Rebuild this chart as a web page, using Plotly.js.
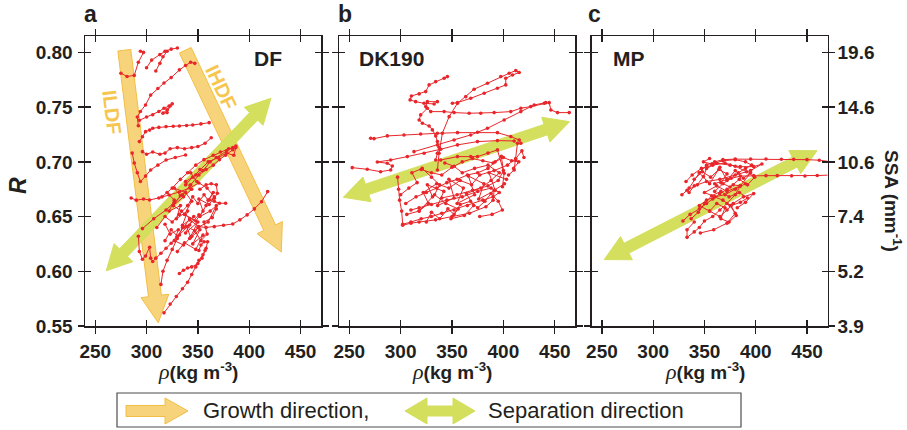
<!DOCTYPE html>
<html><head><meta charset="utf-8">
<script src="https://cdn.plot.ly/plotly-3.0.1.min.js"></script>
<style>html,body{margin:0;padding:0;background:#fff}#chart{width:907px;height:430px}</style>
</head><body><div id="chart"></div>
<script>
// ---------------- data ----------------
const rhoTicks = [250, 300, 350, 400, 450];
const rhoTickLabels = ['250', '300', '350', '400', '450'];
const rTicks = [0.55, 0.60, 0.65, 0.70, 0.75, 0.80];
const rTickLabels = ['0.55', '0.60', '0.65', '0.70', '0.75', '0.80'];
const ssaTickLabels = ['3.9', '5.2', '7.4', '10.6', '14.6', '19.6'];
const panelNames = ['DF', 'DK190', 'MP'];
const panelLetters = ['a', 'b', 'c'];

// DF trajectories (rho kg m-3, R)
const dfRho = [
  [294, 297, 292, 288, 281, 275],
  [300, 305, 313, 318, 324, 330],
  [309, 313, 316, 320],
  [292, 291, 294, 299, 304, 311, 317, 324, 332, 338, 343, 347],
  [293, 300, 306, 312, 317, 322, 325, 320, 316, 320, 323],
  [293, 296, 299, 303, 306, 312, 319, 326, 332, 339, 345, 353, 361],
  [296, 300, 306, 313, 318, 323, 330, 337, 344, 350, 357, 363],
  [286, 288, 291, 294, 299, 304, 311, 319, 328, 338],
  [296, 307, 319, 327, 335, 343, 351, 358, 365, 371, 377, 384, 387],
  [285, 290, 297, 303, 312, 322, 332, 342, 351],
  [292, 293, 296, 299, 303, 304, 306, 309, 314, 319, 324, 332, 342, 351],
  [317, 323, 329, 335, 340, 344, 348, 351, 355, 358, 359.5, 356, 353, 351],
  [332, 336, 340, 344, 350, 354, 357],
  [342, 351, 358, 366, 375, 384, 391, 398, 405, 412, 418],
  [352, 358, 363, 368, 369, 366, 361, 366, 371, 377],
  [314, 316, 320, 325, 330, 335],
  [320, 327, 322, 333, 329, 340, 335, 346, 338, 350, 342, 352, 345, 355, 348, 337, 330],
  [310, 318, 325, 332, 340, 345, 350, 356, 360, 365, 358, 352, 362, 368, 360, 350, 344],
  [318, 324, 330, 336, 342, 334, 326, 336, 344, 338, 348, 355, 362, 368, 378, 384],
  [315, 325, 333, 340, 348, 356, 365, 372, 380, 387, 385, 378, 370, 360, 352, 345, 338],
  [326, 333, 327, 338, 344, 337, 348, 355, 351, 361, 366, 359, 349, 343],
  [318, 323, 331, 327, 336, 343, 339, 347, 353, 359, 356, 364, 368]
];
const dfR = [
  [0.801, 0.800, 0.791, 0.779, 0.778, 0.781],
  [0.786, 0.793, 0.798, 0.801, 0.803, 0.804],
  [0.783, 0.790, 0.796, 0.801],
  [0.733, 0.741, 0.746, 0.752, 0.761, 0.767, 0.772, 0.777, 0.784, 0.788, 0.791, 0.790],
  [0.738, 0.741, 0.743, 0.746, 0.749, 0.751, 0.753, 0.7475, 0.7445, 0.745, 0.751],
  [0.7185, 0.723, 0.7276, 0.729, 0.7307, 0.7315, 0.7322, 0.7325, 0.7328, 0.7332, 0.7337, 0.7347, 0.7358],
  [0.7093, 0.707, 0.709, 0.707, 0.708, 0.712, 0.713, 0.712, 0.713, 0.714, 0.717, 0.722],
  [0.708, 0.699, 0.690, 0.682, 0.687, 0.6926, 0.697, 0.7017, 0.704, 0.7063],
  [0.639, 0.648, 0.656, 0.663, 0.670, 0.679, 0.688, 0.693, 0.697, 0.702, 0.706, 0.711, 0.7145],
  [0.667, 0.665, 0.666, 0.6652, 0.667, 0.6697, 0.6725, 0.6761, 0.6807],
  [0.632, 0.618, 0.611, 0.614, 0.622, 0.612, 0.609, 0.612, 0.6165, 0.621, 0.6256, 0.6332, 0.6423, 0.6515],
  [0.562, 0.570, 0.577, 0.584, 0.590, 0.597, 0.604, 0.610, 0.615, 0.621, 0.627, 0.627, 0.624, 0.619],
  [0.598, 0.601, 0.603, 0.604, 0.607, 0.612, 0.619],
  [0.6469, 0.6408, 0.640, 0.6408, 0.642, 0.6432, 0.647, 0.6515, 0.657, 0.6636, 0.6728],
  [0.675, 0.679, 0.680, 0.679, 0.6713, 0.6667, 0.6652, 0.664, 0.6622, 0.6622],
  [0.588, 0.600, 0.610, 0.620, 0.630, 0.640],
  [0.672, 0.665, 0.655, 0.660, 0.648, 0.655, 0.642, 0.650, 0.635, 0.645, 0.630, 0.638, 0.625, 0.633, 0.620, 0.626, 0.618],
  [0.640, 0.650, 0.645, 0.652, 0.660, 0.668, 0.662, 0.670, 0.665, 0.672, 0.660, 0.650, 0.655, 0.660, 0.645, 0.640, 0.632],
  [0.628, 0.638, 0.632, 0.640, 0.648, 0.655, 0.660, 0.668, 0.675, 0.682, 0.688, 0.692, 0.700, 0.704, 0.710, 0.713],
  [0.668, 0.676, 0.684, 0.690, 0.697, 0.702, 0.706, 0.709, 0.712, 0.713, 0.706, 0.708, 0.704, 0.700, 0.693, 0.686, 0.679],
  [0.660, 0.669, 0.676, 0.672, 0.664, 0.652, 0.646, 0.655, 0.666, 0.661, 0.668, 0.676, 0.682, 0.690],
  [0.643, 0.634, 0.638, 0.628, 0.624, 0.631, 0.641, 0.637, 0.628, 0.634, 0.645, 0.649, 0.657]
];

// DK190 trajectories
const dkRho = [
  [345.5, 342.3, 334.1, 327.7, 324.4, 318.0, 310.5, 309.2, 314.6, 322.8, 332.6, 335.8, 326.0, 324.4, 329.3, 342.3, 352.0, 366.7, 378.0, 391.0, 407.2, 417.0, 426.7, 439.8, 444.6, 446.2, 452.7, 464.1],
  [335.8, 337.4, 340.6, 347.2, 355.3, 363.4, 371.5, 384.5, 397.5, 405.6, 412.1, 415.4, 408.9, 402.3, 402.3, 394.2, 381.3, 368.2, 355.3, 350.4],
  [270.8, 274.1, 287.0, 303.3, 319.5, 335.8, 355.3, 374.8, 394.2, 407.2, 415.4, 417.0],
  [252.9, 267.5, 280.5, 290.3, 291.9, 287.0, 277.3, 290.3, 306.5, 322.8, 339.0, 355.3, 374.8, 394.2, 410.5],
  [313.0, 335.8, 352.0, 368.2, 384.5, 400.8, 417.0, 430.0, 441.3],
  [326.0, 319.5, 318.0, 321.2, 327.7, 330.9, 334.1, 335.8, 337.4, 335.8, 334.1],
  [297, 298, 299, 301, 302, 310, 320, 330, 340, 352, 365, 380, 390, 396, 388, 375, 360, 345, 330, 318, 310],
  [305, 315, 325, 335, 345, 355, 365, 375, 385, 392, 398, 400, 395, 385, 370, 355, 340],
  [318, 331, 326, 342, 336, 352, 347, 361, 355, 372, 366, 381, 376, 392, 386, 403],
  [320, 330, 340, 350, 360, 370, 380, 390, 400, 408, 415, 410],
  [339, 355.3, 368.2, 374.8, 385, 394.2, 400.8, 399.1],
  [413.7, 412.1, 410.5, 405],
  [302, 310, 318, 334, 350, 367, 383, 390, 391, 401],
  [300, 308, 316, 311, 321, 330, 338, 333, 344, 356, 349, 362, 371, 364, 378, 388, 396, 385, 372, 360, 352, 343],
  [306, 318, 327, 322, 335, 347, 358, 369, 377, 391, 404, 412, 418, 420],
  [325, 330, 338, 346, 352, 358, 368, 375, 382, 388, 395, 399, 389, 377]
];
const dkR = [
  [0.7779, 0.7764, 0.7733, 0.7703, 0.7642, 0.7621, 0.7602, 0.7566, 0.755, 0.7535, 0.7529, 0.755, 0.755, 0.7505, 0.7459, 0.7459, 0.745, 0.7444, 0.7444, 0.745, 0.7459, 0.749, 0.7505, 0.7535, 0.7541, 0.7474, 0.745, 0.745],
  [0.6926, 0.7079, 0.7261, 0.7413, 0.7535, 0.7596, 0.7664, 0.7718, 0.7779, 0.781, 0.7834, 0.7816, 0.7794, 0.7764, 0.7703, 0.7673, 0.7627, 0.7581, 0.7541, 0.7535],
  [0.7216, 0.7212, 0.7237, 0.7246, 0.7255, 0.7261, 0.7267, 0.727, 0.7267, 0.7231, 0.72, 0.717],
  [0.6947, 0.6932, 0.691, 0.6926, 0.6962, 0.6987, 0.6999, 0.7017, 0.7048, 0.7079, 0.7115, 0.7155, 0.7185, 0.7194, 0.7191],
  [0.7093, 0.7155, 0.72, 0.7246, 0.7307, 0.7383, 0.7459, 0.752, 0.7541],
  [0.749, 0.7429, 0.7383, 0.7353, 0.7328, 0.7292, 0.7237, 0.7185, 0.7133, 0.7079, 0.7017],
  [0.686, 0.675, 0.665, 0.655, 0.643, 0.645, 0.648, 0.650, 0.653, 0.656, 0.660, 0.665, 0.668, 0.672, 0.676, 0.673, 0.668, 0.665, 0.661, 0.658, 0.656],
  [0.662, 0.668, 0.672, 0.676, 0.681, 0.684, 0.688, 0.690, 0.694, 0.700, 0.705, 0.692, 0.683, 0.678, 0.674, 0.670, 0.667],
  [0.655, 0.668, 0.679, 0.673, 0.660, 0.667, 0.684, 0.676, 0.662, 0.670, 0.687, 0.680, 0.666, 0.674, 0.690, 0.684],
  [0.693, 0.690, 0.688, 0.695, 0.700, 0.703, 0.701, 0.699, 0.704, 0.701, 0.700, 0.694],
  [0.7017, 0.7048, 0.7048, 0.7048, 0.708, 0.7109, 0.6896, 0.6773],
  [0.717, 0.7017, 0.6926, 0.688],
  [0.642, 0.644, 0.645, 0.647, 0.650, 0.653, 0.659, 0.665, 0.674, 0.680],
  [0.670, 0.676, 0.681, 0.690, 0.694, 0.686, 0.679, 0.670, 0.662, 0.657, 0.648, 0.651, 0.660, 0.671, 0.676, 0.683, 0.690, 0.697, 0.694, 0.690, 0.696, 0.699],
  [0.652, 0.655, 0.662, 0.672, 0.680, 0.676, 0.683, 0.679, 0.688, 0.692, 0.697, 0.703, 0.710, 0.704],
  [0.645, 0.654, 0.648, 0.657, 0.652, 0.661, 0.664, 0.658, 0.664, 0.671, 0.664, 0.656, 0.652, 0.650]
];

// MP trajectories
const mpRho = [
  [345, 352, 360, 368, 380, 395, 410, 425, 437, 450, 462, 475],
  [360, 372, 385, 398, 410, 421, 435, 448, 460, 475],
  [328, 333, 343, 349, 352, 362, 375, 385, 398, 406, 395, 380, 365, 352, 340, 335],
  [335, 345, 355, 365, 372, 380, 388, 395, 385, 372, 362, 350, 360, 370, 380, 390],
  [329, 336, 345, 352, 358, 365, 372, 378, 385, 380, 372, 365, 358, 350, 345, 340, 333, 333, 340],
  [346, 359, 372, 380, 375, 368, 360, 352, 345, 355, 365, 372, 378, 388, 398, 390, 382],
  [340, 348, 356, 364, 372, 366, 375, 384, 392, 399, 391, 380, 370, 358, 347, 338, 332],
  [355, 362, 370, 366, 374, 381, 376, 385, 392, 384, 374, 366, 357, 350, 344, 337],
  [360, 368, 376, 383, 390, 396, 390, 380, 368, 357, 349, 355]
];
const mpR = [
  [0.690, 0.697, 0.700, 0.702, 0.7025, 0.7025, 0.7026, 0.7024, 0.7023, 0.702, 0.7015, 0.700],
  [0.680, 0.684, 0.687, 0.6874, 0.6874, 0.6874, 0.6872, 0.6871, 0.6875, 0.688],
  [0.670, 0.674, 0.679, 0.6865, 0.694, 0.6987, 0.697, 0.6956, 0.6956, 0.698, 0.692, 0.688, 0.684, 0.682, 0.678, 0.672],
  [0.676, 0.690, 0.680, 0.695, 0.683, 0.692, 0.685, 0.690, 0.678, 0.673, 0.678, 0.672, 0.668, 0.670, 0.675, 0.680],
  [0.646, 0.652, 0.657, 0.662, 0.666, 0.671, 0.675, 0.679, 0.678, 0.670, 0.662, 0.656, 0.650, 0.646, 0.640, 0.636, 0.631, 0.638, 0.645],
  [0.635, 0.638, 0.644, 0.653, 0.660, 0.665, 0.668, 0.665, 0.660, 0.655, 0.650, 0.656, 0.662, 0.668, 0.671, 0.663, 0.658],
  [0.684, 0.691, 0.686, 0.693, 0.689, 0.681, 0.677, 0.684, 0.679, 0.686, 0.691, 0.696, 0.699, 0.697, 0.694, 0.688, 0.682],
  [0.655, 0.662, 0.658, 0.648, 0.645, 0.651, 0.660, 0.663, 0.667, 0.672, 0.668, 0.673, 0.669, 0.662, 0.654, 0.648],
  [0.673, 0.680, 0.685, 0.690, 0.694, 0.697, 0.700, 0.702, 0.701, 0.698, 0.700, 0.703]
];

// direction arrows, in each panel's data units: [rho start, R start] -> [rho end, R end]
const growthArrows = [
  {panel: 0, from: [278.3, 0.802], to: [311.4, 0.553], label: 'ILDF'},
  {panel: 0, from: [337.7, 0.802], to: [431.3, 0.6176], label: 'IHDF'}
];
const separationArrows = [
  {panel: 0, from: [260.7, 0.6005], to: [421.2, 0.7581]},
  {panel: 1, from: [244.2, 0.6676], to: [464.4, 0.7367]},
  {panel: 2, from: [252.2, 0.6107], to: [459.8, 0.7102]}
];

// ---------------- geometry / style ----------------
const W = 907, H = 430, TOP = 36, BOT = 326;
const PX = [[85, 321], [339, 575.3], [591.7, 827.5]];
const XR = [240, 470], YR = [0.55, 0.815];
const INK = '#231f20', RED = '#e8262b', ORANGE = '#f7d47b', ORANGE_EDGE = '#f3be45', GREEN = '#d3df5d';
const FONT = 'Liberation Sans, Arial, sans-serif';

function dataToPx(k, x, y) { const [l, r] = PX[k]; return [l + (x - XR[0]) / (XR[1] - XR[0]) * (r - l), TOP + (YR[1] - y) / (YR[1] - YR[0]) * (BOT - TOP)]; }
function pxToData(k, px, py) { const [l, r] = PX[k]; return [XR[0] + (px - l) / (r - l) * (XR[1] - XR[0]), YR[1] - (py - TOP) / (BOT - TOP) * (YR[1] - YR[0])]; }
function arrowPoly(p0, p1, bw, hw, hl, dbl) {
  const dx = p1[0] - p0[0], dy = p1[1] - p0[1], L = Math.hypot(dx, dy);
  const d = [dx / L, dy / L], n = [-d[1], d[0]];
  const at = (p, s, t) => [p[0] + d[0] * s + n[0] * t, p[1] + d[1] * s + n[1] * t];
  const pts = [];
  if (dbl) pts.push(p0, at(p0, hl, hw), at(p0, hl, bw)); else pts.push(at(p0, 0, bw));
  pts.push(at(p1, -hl, bw), at(p1, -hl, hw), p1, at(p1, -hl, -hw), at(p1, -hl, -bw));
  if (dbl) pts.push(at(p0, hl, -bw), at(p0, hl, -hw)); else pts.push(at(p0, 0, -bw));
  return pts;
}
const toPath = pts => 'M' + pts.map(p => p[0].toFixed(3) + ',' + p[1].toFixed(5)).join('L') + 'Z';
const axSuffix = k => (k === 0 ? '' : String(k + 1));

const shapes = [];
function dataArrow(a, bw, hw, hl, dbl, fill, edge) {
  const p0 = dataToPx(a.panel, a.from[0], a.from[1]);
  const p1 = dataToPx(a.panel, a.to[0], a.to[1]);
  const pts = arrowPoly(p0, p1, bw, hw, hl, dbl).map(p => pxToData(a.panel, p[0], p[1]));
  shapes.push({type: 'path', xref: 'x' + axSuffix(a.panel), yref: 'y' + axSuffix(a.panel), path: toPath(pts),
    fillcolor: fill, line: {color: edge, width: 1}, layer: 'below'});
}
growthArrows.forEach(a => dataArrow(a, 6.5, 14, 27, false, ORANGE, ORANGE_EDGE));
separationArrows.forEach(a => dataArrow(a, 5.5, 13, 25, true, GREEN, GREEN));

// legend box (paper)
const pp = p => [p[0] / W, 1 - p[1] / H];
shapes.push({type: 'rect', xref: 'paper', yref: 'paper', x0: 117 / W, x1: 741 / W, y0: 1 - 427 / H, y1: 1 - 393 / H,
  line: {color: '#4d4d4d', width: 1.2}, fillcolor: 'rgba(0,0,0,0)'});
shapes.push({type: 'path', xref: 'paper', yref: 'paper', path: 'M' + arrowPoly([126, 411], [188, 411], 5.5, 13, 23, false).map(pp).map(p => p[0].toFixed(5) + ',' + p[1].toFixed(5)).join('L') + 'Z',
  fillcolor: ORANGE, line: {color: ORANGE_EDGE, width: 1}});
shapes.push({type: 'path', xref: 'paper', yref: 'paper', path: 'M' + arrowPoly([405, 411], [475, 411], 5, 13, 22, true).map(pp).map(p => p[0].toFixed(5) + ',' + p[1].toFixed(5)).join('L') + 'Z',
  fillcolor: GREEN, line: {color: GREEN, width: 1}});

// ---------------- traces ----------------
const traces = [];
[[dfRho, dfR], [dkRho, dkR], [mpRho, mpR]].forEach(([xs, ys], k) => {
  xs.forEach((x, i) => traces.push({
    type: 'scatter', mode: 'lines+markers', x: x, y: ys[i],
    xaxis: 'x' + axSuffix(k), yaxis: 'y' + axSuffix(k),
    line: {color: RED, width: 1}, marker: {color: RED, size: 3.6},
    showlegend: false, hoverinfo: 'x+y'
  }));
});

// ---------------- axes ----------------
const layout = {
  width: W, height: H, margin: {l: 0, r: 0, t: 0, b: 0},
  paper_bgcolor: '#fff', plot_bgcolor: '#fff', showlegend: false,
  font: {family: FONT, color: INK},
  shapes: shapes, annotations: []
};
const tickFont = {family: FONT, size: 19, color: INK, weight: 'bold'};
const yDom = [1 - BOT / H, 1 - TOP / H];
for (let k = 0; k < 3; k++) {
  const s = axSuffix(k), xDom = [PX[k][0] / W, PX[k][1] / W];
  layout['xaxis' + s] = {domain: xDom, range: XR, anchor: 'y' + s, tickmode: 'array', tickvals: rhoTicks, ticktext: rhoTickLabels,
    ticks: 'outside', ticklen: 6, tickwidth: 1.3, tickcolor: INK, showline: true, linecolor: INK, linewidth: 1.5,
    mirror: 'ticks', showgrid: false, zeroline: false, tickfont: tickFont, ticklabelstandoff: 2, fixedrange: true};
  layout['yaxis' + s] = {domain: yDom, range: YR, anchor: 'x' + s, tickmode: 'array', tickvals: rTicks, ticktext: rTickLabels,
    showticklabels: k === 0, ticks: 'outside', ticklen: 6, tickwidth: 1.3, tickcolor: INK, showline: true, linecolor: INK,
    linewidth: 1.5, mirror: 'ticks', showgrid: false, zeroline: false, tickfont: tickFont, ticklabelstandoff: 1, fixedrange: true};
  // inner halves of the crossing ticks
  const xi = String(k + 4), yi = String(k + 4);
  layout['xaxis' + xi] = {overlaying: 'x' + s, anchor: 'y' + s, range: XR, tickmode: 'array', tickvals: rhoTicks,
    ticks: 'inside', ticklen: 6, tickwidth: 1.3, tickcolor: INK, mirror: 'ticks', showticklabels: false, showline: false,
    showgrid: false, zeroline: false, fixedrange: true};
  layout['yaxis' + yi] = {overlaying: 'y' + s, anchor: 'x' + s, range: YR, tickmode: 'array', tickvals: rTicks,
    ticks: 'inside', ticklen: 6, tickwidth: 1.3, tickcolor: INK, mirror: 'ticks', showticklabels: false, showline: false,
    showgrid: false, zeroline: false, fixedrange: true};
  traces.push({type: 'scatter', x: [], y: [], xaxis: 'x' + xi, yaxis: 'y' + s, showlegend: false, hoverinfo: 'skip'});
  traces.push({type: 'scatter', x: [], y: [], xaxis: 'x' + s, yaxis: 'y' + yi, showlegend: false, hoverinfo: 'skip'});

  // x-axis title
  layout.annotations.push({xref: 'paper', yref: 'paper', x: (PX[k][0] + PX[k][1]) / 2 / W - 5 / W, y: 1 - 371 / H,
    xanchor: 'center', yanchor: 'middle', showarrow: false,
    text: '<span style="font-family:Liberation Serif;font-style:italic;font-weight:normal;font-size:22px">ρ</span>(kg m<sup>-3</sup>)',
    font: {family: FONT, size: 19, color: INK, weight: 'bold'}});
  // panel letter
  layout.annotations.push({xref: 'paper', yref: 'paper', x: [82, 335.5, 585.5][k] / W, y: 1 - 14 / H, xanchor: 'left', yanchor: 'middle',
    showarrow: false, text: panelLetters[k], font: {family: FONT, size: 23, color: INK, weight: 'bold'}});
  // panel name
  layout.annotations.push({xref: 'paper', yref: 'paper', x: [252, 357, 610.5][k] / W, y: 1 - 59 / H, xanchor: 'left', yanchor: 'middle',
    showarrow: false, text: panelNames[k], font: {family: FONT, size: 21, color: INK, weight: 'bold'}});
}
layout.yaxis7 = {overlaying: 'y3', side: 'right', anchor: 'x3', range: YR, tickmode: 'array', tickvals: rTicks, ticktext: ssaTickLabels,
  ticks: '', showline: false, showgrid: false, zeroline: false, tickfont: tickFont, ticklabelstandoff: 9, fixedrange: true};
traces.push({type: 'scatter', x: [], y: [], xaxis: 'x3', yaxis: 'y7', showlegend: false, hoverinfo: 'skip'});

// y titles
layout.annotations.push({xref: 'paper', yref: 'paper', x: 18 / W, y: 1 - 186 / H, xanchor: 'center', yanchor: 'middle', showarrow: false,
  textangle: -90, text: '<i>R</i>', font: {family: FONT, size: 23, color: INK, weight: 'bold'}});
layout.annotations.push({xref: 'paper', yref: 'paper', x: 893 / W, y: 1 - 201 / H, xanchor: 'center', yanchor: 'middle', showarrow: false,
  textangle: 90, text: 'SSA (mm<sup>-1</sup>)', font: {family: FONT, size: 19, color: INK, weight: 'bold'}});

// growth-arrow labels
layout.annotations.push({xref: 'paper', yref: 'paper', x: 112 / W, y: 1 - 112 / H, xanchor: 'center', yanchor: 'middle', showarrow: false,
  textangle: 83, text: growthArrows[0].label, font: {family: FONT, size: 20, color: '#f6c650', weight: 'bold'}});
layout.annotations.push({xref: 'paper', yref: 'paper', x: 221 / W, y: 1 - 87 / H, xanchor: 'center', yanchor: 'middle', showarrow: false,
  textangle: 64.5, text: growthArrows[1].label, font: {family: FONT, size: 20, color: '#f6c650', weight: 'bold'}});

// legend texts
layout.annotations.push({xref: 'paper', yref: 'paper', x: 201 / W, y: 1 - 410 / H, xanchor: 'left', yanchor: 'middle', showarrow: false,
  text: 'Growth direction,', font: {family: FONT, size: 22, color: INK}});
layout.annotations.push({xref: 'paper', yref: 'paper', x: 486 / W, y: 1 - 410 / H, xanchor: 'left', yanchor: 'middle', showarrow: false,
  text: 'Separation direction', font: {family: FONT, size: 22, color: INK}});

Plotly.newPlot('chart', traces, layout, {displayModeBar: false, staticPlot: true});
</script></body></html>
